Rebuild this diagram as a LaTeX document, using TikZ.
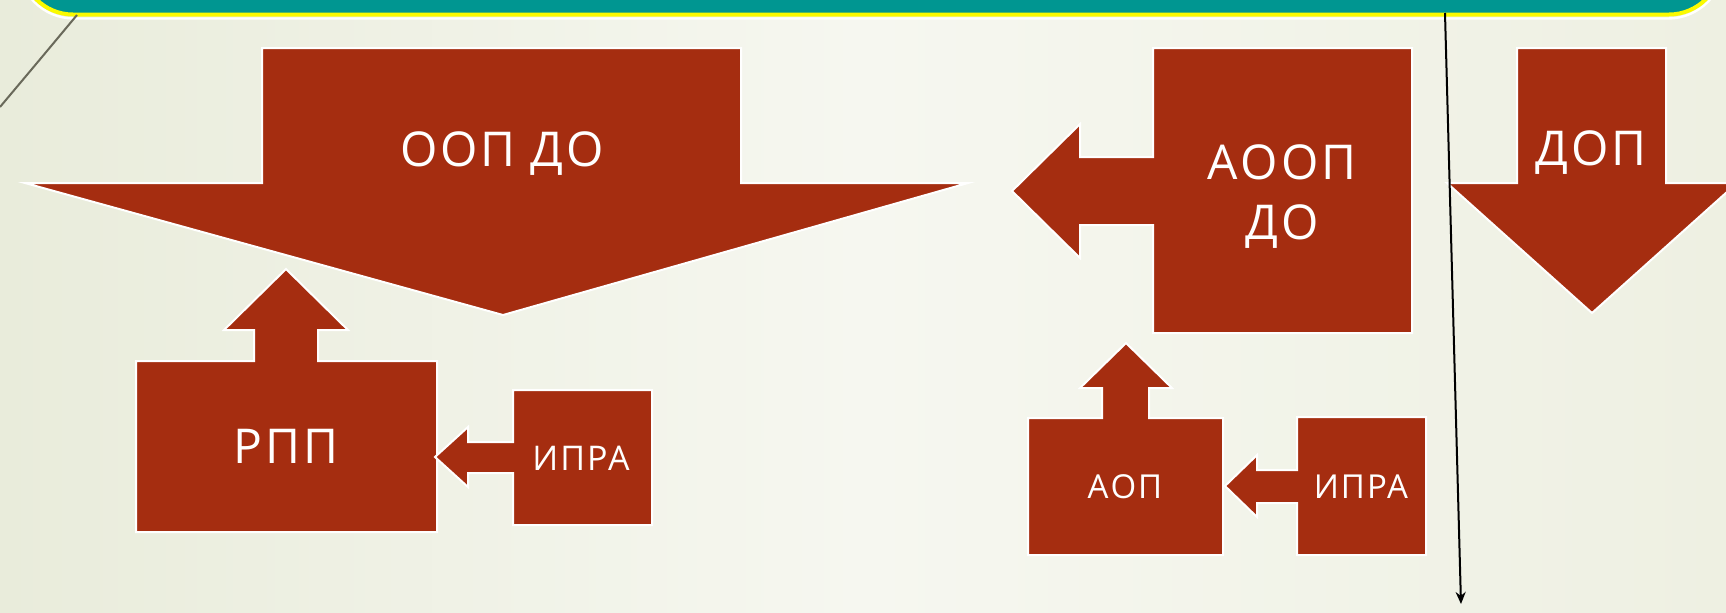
\documentclass[tikz,border=0pt]{standalone}
\usepackage{fontspec}
\setmainfont{Open Sans}[LetterSpace=6]
\usetikzlibrary{arrows.meta}
\definecolor{shapered}{RGB}{165,45,16}
\definecolor{barteal}{RGB}{0,150,145}
\definecolor{baryellow}{RGB}{250,250,0}
\definecolor{bgleft}{RGB}{233,236,219}
\definecolor{bgmid}{RGB}{246,247,240}
\definecolor{bgright}{RGB}{238,240,226}
\definecolor{curvegray}{RGB}{105,105,90}
\tikzset{
  redshape/.style={fill=shapered, draw=white, line width=1pt, line join=miter},
  lbl/.style={text=white, inner sep=0pt, align=center, anchor=base},
  bigtxt/.style={lbl, font=\fontsize{24}{30}\selectfont},
  midtxt/.style={lbl, font=\fontsize{17}{20}\selectfont},
  smalltxt/.style={lbl, font=\fontsize{16.5}{19}\selectfont},
}
\begin{document}
\begin{tikzpicture}[x=0.5pt,y=-0.5pt]
\useasboundingbox (0,0) rectangle (1726,612);
\clip (0,0) rectangle (1726,612);
\shade[left color=bgleft, right color=bgright, middle color=bgmid] (0,0) rectangle (1726,612);

% top bar
\draw[white, line width=1.2pt, rounded corners=28] (18,-60) rectangle (1724,18.5);
\draw[fill=barteal, draw=baryellow, line width=2pt, rounded corners=26] (21,-60) rectangle (1721,14.5);

% left thin curve
\coordinate (ltop) at (77,15);
\coordinate (lbot) at (0,107);
\draw[curvegray, line width=1pt] (ltop) .. controls (42,57) .. (lbot);

% ООП ДО callout
\path[redshape] (262,48) -- (741,48) -- (741,183) -- (968,183) -- (503,315) -- (25,183) -- (262,183) -- cycle;
\node[bigtxt] (oop) at (502,166) {ООП ДО};

% РПП callout
\path[redshape] (136,361) -- (254,361) -- (254,330) -- (224,330) -- (286,269) -- (348,330) -- (318,330) -- (318,361) -- (437,361) -- (437,532) -- (136,532) -- cycle;
\node[bigtxt] (rpp) at (286,463) {РПП};

% ИПРА (left) callout
\path[redshape] (513,390) -- (652,390) -- (652,525) -- (513,525) -- (513,473) -- (468,473) -- (468,487) -- (435,457) -- (468,427) -- (468,442) -- (513,442) -- cycle;
\node[midtxt] (ipraA) at (581,470) {ИПРА};

% АООП ДО callout
\path[redshape] (1153,48) -- (1412,48) -- (1412,333) -- (1153,333) -- (1153,225) -- (1080,225) -- (1080,258) -- (1012,191) -- (1080,124) -- (1080,157) -- (1153,157) -- cycle;
\node[bigtxt] (aoop) at (1282,239) {АООП\\ДО};

% ДОП callout
\path[redshape] (1517,48) -- (1666,48) -- (1666,183) -- (1737,183) -- (1592,313) -- (1447,183) -- (1517,183) -- cycle;
\node[bigtxt] (dop) at (1591,165) {ДОП};

% АОП callout
\path[redshape] (1028,418) -- (1102,418) -- (1102,388) -- (1080,388) -- (1126,343) -- (1172,388) -- (1149,388) -- (1149,418) -- (1223,418) -- (1223,555) -- (1028,555) -- cycle;
\node[smalltxt] (aop) at (1125,498) {АОП};

% ИПРА (right) callout
\path[redshape] (1297,417) -- (1426,417) -- (1426,555) -- (1297,555) -- (1297,503) -- (1257,503) -- (1257,517) -- (1225,486) -- (1257,455) -- (1257,470) -- (1297,470) -- cycle;
\node[smalltxt] (ipraB) at (1361,498) {ИПРА};

% vertical black arrow
\coordinate (vtop) at (1445,13);
\coordinate (vbot) at (1461,604);
\draw[black, line width=1pt, -{Stealth[length=6pt,width=5pt]}] (vtop) -- (vbot);
\end{tikzpicture}
\end{document}
